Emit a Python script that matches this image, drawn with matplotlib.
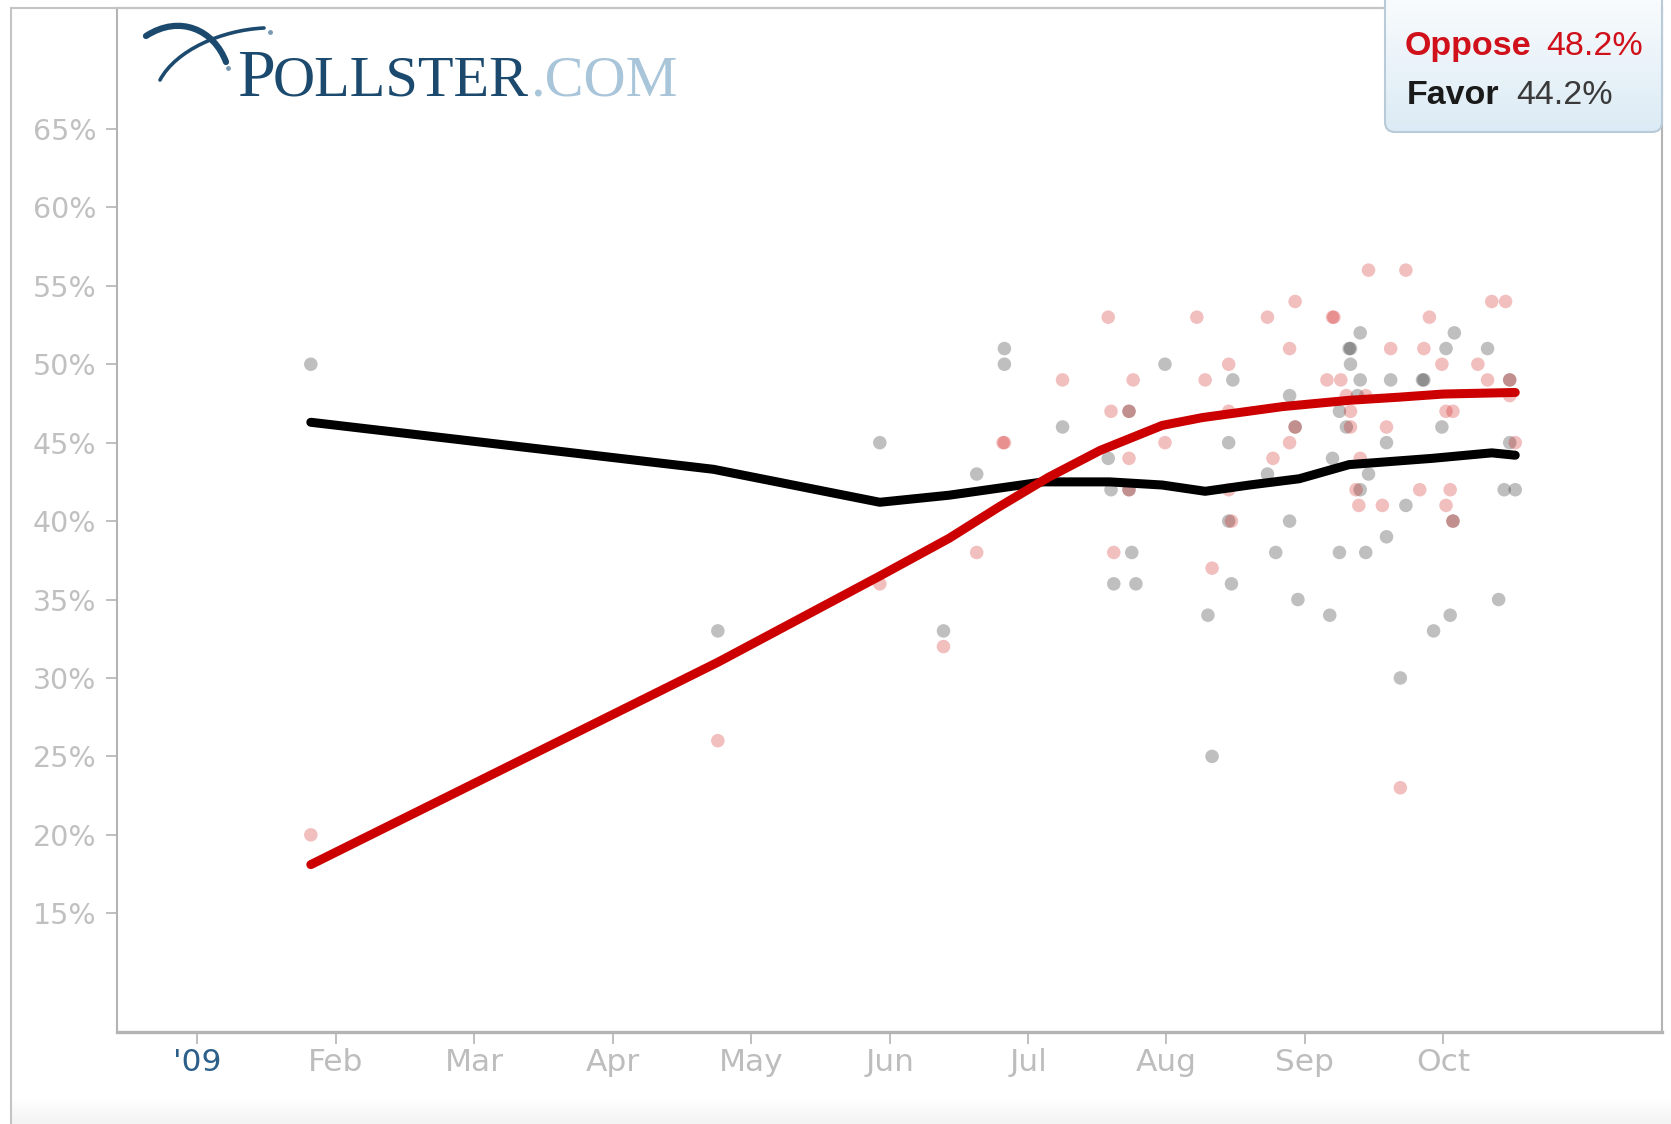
import numpy as np
import matplotlib
matplotlib.use("Agg")
import matplotlib.pyplot as plt
from matplotlib.patches import FancyBboxPatch, PathPatch
from matplotlib.path import Path

# time axis: months since 1 Jan 2009 (0 = '09, 1 = Feb, ...)
month_labels = ["'09", "Feb", "Mar", "Apr", "May", "Jun", "Jul", "Aug", "Sep", "Oct"]
y_ticks = [15, 20, 25, 30, 35, 40, 45, 50, 55, 60, 65]

# trend lines
opp_trend_t = [0.82, 3.76, 4.93, 5.43, 5.79, 6.15, 6.52, 6.97, 7.26, 7.84, 8.32, 8.68, 9.00, 9.52]
opp_trend_v = [18.1, 31.0, 36.5, 38.9, 40.9, 42.8, 44.5, 46.1, 46.6, 47.3, 47.7, 47.9, 48.1, 48.2]
fav_trend_t = [0.82, 3.73, 4.93, 5.43, 6.11, 6.59, 6.97, 7.28, 7.60, 7.96, 8.32, 8.92, 9.35, 9.52]
fav_trend_v = [46.3, 43.3, 41.2, 41.65, 42.5, 42.5, 42.3, 41.9, 42.3, 42.7, 43.6, 44.0, 44.35, 44.2]

# individual polls - favor
fav_t = [0.82, 3.76, 4.93, 5.39, 5.63, 5.83, 5.83, 6.25, 6.58, 6.60, 6.73, 6.73, 6.75, 6.62, 6.78,
         6.99, 7.48, 7.45, 7.45, 7.47, 7.30, 7.33, 7.73, 7.79, 7.89, 7.93, 7.89, 7.95, 8.18, 8.20,
         8.25, 8.25, 8.30, 8.33, 8.32, 8.33, 8.40, 8.40, 8.38, 8.40, 8.46, 8.44, 8.62, 8.59, 8.59,
         8.69, 8.73, 8.86, 8.85, 8.93, 8.99, 9.02, 9.08, 9.05, 9.07, 9.32, 9.40, 9.48, 9.48, 9.44, 9.52]
fav_v = [50, 33, 45, 33, 43, 51, 50, 46, 44, 42, 47, 42, 38, 36, 36,
         50, 49, 45, 40, 36, 34, 25, 43, 38, 48, 46, 40, 35, 34, 44,
         47, 38, 46, 51, 51, 50, 52, 49, 48, 42, 43, 38, 49, 45, 39,
         30, 41, 49, 49, 33, 46, 51, 52, 34, 40, 51, 35, 49, 45, 42, 42]

# individual polls - oppose
opp_t = [0.82, 3.76, 4.93, 5.39, 5.63, 5.82, 5.83, 6.25, 6.58, 6.60, 6.73, 6.76, 6.73, 6.73, 6.62,
         6.99, 7.22, 7.28, 7.45, 7.45, 7.45, 7.47, 7.33, 7.73, 7.93, 7.89, 7.93, 7.89, 7.77, 8.20,
         8.21, 8.16, 8.26, 8.30, 8.44, 8.33, 8.33, 8.40, 8.37, 8.39, 8.46, 8.56, 8.59, 8.62, 8.69,
         8.73, 8.83, 8.86, 8.90, 8.99, 9.02, 9.07, 9.05, 9.02, 9.07, 9.25, 9.32, 9.35, 9.45, 9.48,
         9.48, 9.52]
opp_v = [20, 26, 36, 32, 38, 45, 45, 49, 53, 47, 47, 49, 44, 42, 38,
         45, 53, 49, 50, 47, 42, 40, 37, 53, 54, 51, 46, 45, 44, 53,
         53, 49, 49, 48, 48, 47, 46, 44, 42, 41, 56, 41, 46, 51, 23,
         56, 42, 51, 53, 50, 47, 47, 42, 41, 40, 50, 49, 54, 54, 49,
         48, 45]

W, H = 1671, 1124
RED = "#cc0000"
GRAY = "#b4b4b4"
NAVY = "#1c4a6e"

plt.rcParams['font.family'] = ['DejaVu Sans']

fig = plt.figure(figsize=(W / 100, H / 100), dpi=100)
ax = fig.add_axes([117 / W, 1 - 1032 / H, (1662 - 117) / W, (1032 - 8) / H])

ax.scatter(fav_t, fav_v, s=95, color="black", alpha=0.25, edgecolors="none", zorder=2)
ax.scatter(opp_t, opp_v, s=95, color=RED, alpha=0.25, edgecolors="none", zorder=2)
ax.plot(fav_trend_t, fav_trend_v, color="black", lw=6.5, solid_capstyle="round",
        solid_joinstyle="round", zorder=3)
ax.plot(opp_trend_t, opp_trend_v, color=RED, lw=6.5, solid_capstyle="round",
        solid_joinstyle="round", zorder=4)

ax.set_xlim(-0.58, 10.58)
ax.set_ylim(7.43, 72.71)
ax.set_xticks(range(len(month_labels)))
ax.set_xticklabels(month_labels, fontsize=22.5, color="#bdbdbd")
ax.get_xticklabels()[0].set_color("#2b5f8a")
ax.set_yticks(y_ticks)
ax.set_yticklabels([f"{v}%" for v in y_ticks], fontsize=20.5, color="#c0c0c0")
ax.tick_params(axis="x", length=8.5, width=1.2, color=GRAY, pad=3)
ax.tick_params(axis="y", length=8, width=1.2, color=GRAY, pad=7)
for side in ["left", "top", "right"]:
    ax.spines[side].set_color(GRAY)
    ax.spines[side].set_linewidth(1.5)
ax.spines["bottom"].set_color(GRAY)
ax.spines["bottom"].set_linewidth(2.4)

# overlay in figure pixels for the frame, logo and legend box
ov = fig.add_axes([0, 0, 1, 1], zorder=5)
ov.set_xlim(0, W)
ov.set_ylim(H, 0)
ov.axis("off")

ov.plot([11, 1662], [8, 8], color="#c4c4c4", lw=1.5)
ov.plot([11, 11], [8, H], color="#c4c4c4", lw=1.5)

# faint gradient at the bottom
grad = np.linspace(1.0, 0.955, 30).reshape(-1, 1)
ov.imshow(np.dstack([grad, grad, grad]), extent=(12, W, H, 1098), aspect="auto", origin="upper", zorder=0)

# legend box with light blue gradient
box = FancyBboxPatch((1385, -30), 277, 162, boxstyle="round,pad=0,rounding_size=10",
                     facecolor="none", edgecolor="#b9cad8", lw=1.5, zorder=3)
ov.add_patch(box)
g = np.linspace(0, 1, 100).reshape(-1, 1)
top_c = np.array([1.0, 1.0, 1.0])
bot_c = np.array([0.86, 0.92, 0.96])
img = top_c * (1 - g[..., None]) + bot_c * g[..., None]
im = ov.imshow(img, extent=(1385, 1662, 132, -30), aspect="auto", origin="upper", zorder=2)
im.set_clip_path(box)

ov.text(1405, 55, "Oppose", fontsize=24.5, fontweight="bold", color="#d0101a",
        family="Liberation Sans", ha="left", va="baseline", zorder=4)
ov.text(1643, 55, "48.2%", fontsize=24.5, color="#d0101a",
        family="Liberation Sans", ha="right", va="baseline", zorder=4)
ov.text(1407, 104, "Favor", fontsize=24.5, fontweight="bold", color="#1a1a1a",
        family="Liberation Sans", ha="left", va="baseline", zorder=4)
ov.text(1613, 104, "44.2%", fontsize=24.5, color="#3a3a3a",
        family="Liberation Sans", ha="right", va="baseline", zorder=4)

# logo
ov.set_xlim(0, W)
ov.set_ylim(H, 0)
t1 = ov.text(237, 96, "P", fontsize=49, color=NAVY, family="Liberation Serif",
             ha="left", va="baseline")
fig.canvas.draw()
r = fig.canvas.get_renderer()
x_next = t1.get_window_extent(r).x1 - 2
t2 = ov.text(x_next, 96, "OLLSTER", fontsize=42, color=NAVY, family="Liberation Serif",
             ha="left", va="baseline")
x_next = t2.get_window_extent(r).x1 + 1
ov.text(x_next, 96, ".COM", fontsize=42, color="#a9c5d9", family="Liberation Serif",
        ha="left", va="baseline")

swoosh1 = Path([(146, 36), (180, 14), (214, 30), (226, 62)],
               [Path.MOVETO, Path.CURVE4, Path.CURVE4, Path.CURVE4])
swoosh2 = Path([(264, 28), (222, 30), (176, 50), (160, 80)],
               [Path.MOVETO, Path.CURVE4, Path.CURVE4, Path.CURVE4])
ov.add_patch(PathPatch(swoosh1, facecolor="none", edgecolor=NAVY, lw=4.5, capstyle="round"))
ov.add_patch(PathPatch(swoosh2, facecolor="none", edgecolor=NAVY, lw=2.6, capstyle="round"))
ov.plot([270, 228], [32, 68], "o", color="#7a9ab4", ms=2.5)

plt.savefig("out.png", dpi=100)
plt.close()
